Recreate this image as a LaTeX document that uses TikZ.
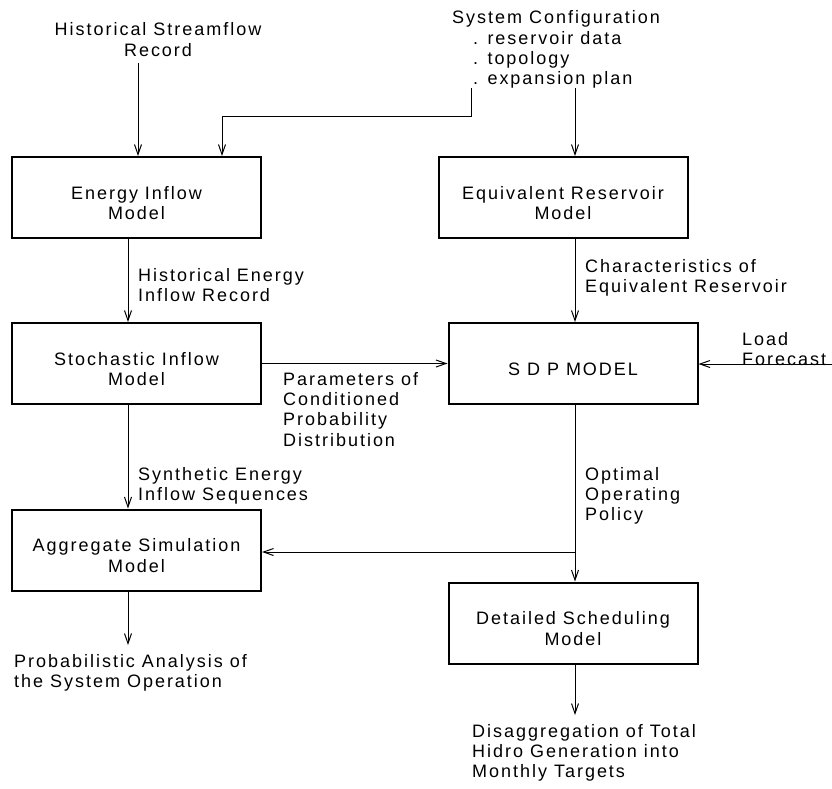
\documentclass[tikz,border=0pt]{standalone}
\usepackage{fontspec}
\setmainfont[LetterSpace=11]{Liberation Sans}
\usetikzlibrary{arrows.meta}

\begin{document}
\begin{tikzpicture}[x=1pt,y=-1pt,
  font=\fontsize{18}{20.3}\selectfont,
  model/.style={draw,line width=2pt,minimum width=249pt,minimum height=81pt,
    align=center,inner sep=0pt,text height=#1,text depth=0pt},
  model/.default=44pt,
  txt/.style={align=left,inner sep=0pt,anchor=north west},
  arr/.style={line width=1pt,-{Straight Barb[length=10pt,width=7pt]}}]
\useasboundingbox (0,0) rectangle (832,788);

% the six models
\node[model] (energy) at (136.5,197.5) {Energy Inflow\\Model};
\node[model] (equiv)  at (563,197.5)   {Equivalent Reservoir\\Model};
\node[model] (stoch)  at (136.5,363.5) {Stochastic Inflow\\Model};
\node[model=24pt] (sdp) at (573,363.5) {S D P MODEL};
\node[model] (aggr)   at (136.5,550)   {Aggregate Simulation\\Model};
\node[model] (detail) at (573,623)     {Detailed Scheduling\\Model};

% inputs and outputs
\node[align=center,inner sep=0pt,anchor=north] (stream) at (158,22.5)
  {Historical Streamflow\\Record};
\node[txt] (config) at (452,10.7) {System Configuration\\
  \hspace*{21pt}. reservoir data\\
  \hspace*{21pt}. topology\\
  \hspace*{21pt}. expansion plan};
\node[txt] (loadtxt) at (742,332) {Load\\Forecast};
\node[txt] (prob)    at (14,654)  {Probabilistic Analysis of\\the System Operation};
\node[txt] (disagg)  at (472,724) {Disaggregation of Total\\Hidro Generation into\\Monthly Targets};

% labels on the connectors
\node[txt] (histE)  at (138,268.2) {Historical Energy\\Inflow Record};
\node[txt] (charac) at (585,259) {Characteristics of\\Equivalent Reservoir};
\node[txt] (param)  at (283,372) {Parameters of\\Conditioned\\Probability\\Distribution};
\node[txt] (synth)  at (138,467) {Synthetic Energy\\Inflow Sequences};
\node[txt] (optim)  at (585,467) {Optimal\\Operating\\Policy};

% columns and free ends
\coordinate (colL) at (128,0);
\coordinate (colR) at (575,0);
\coordinate (flowin) at (138,63);
\coordinate (cfgleft) at (471,88);
\coordinate (cfgright) at (575,88);
\coordinate (cfgbend) at (222,116);
\coordinate (loadin) at (832,364);
\coordinate (split) at (575,552);
\coordinate (probout) at (128,645);
\coordinate (disout) at (575,715);

\draw[arr] (flowin) -- (flowin |- energy.north);
\draw[arr] (cfgleft) |- (cfgbend) -- (cfgbend |- energy.north);
\draw[arr] (cfgright) -- (cfgright |- equiv.north);
\draw[arr] (colL |- energy.south) -- (colL |- stoch.north);
\draw[arr] (colR |- equiv.south) -- (colR |- sdp.north);
\draw[arr] (stoch.east) -- (sdp.west);
\draw[arr] (loadin) -- (loadin -| sdp.east);
\draw[arr] (colL |- stoch.south) -- (colL |- aggr.north);
\draw[arr] (colR |- sdp.south) -- (colR |- detail.north);
\draw[arr] (split) -- (split -| aggr.east);
\draw[arr] (colL |- aggr.south) -- (probout);
\draw[arr] (colR |- detail.south) -- (disout);
\end{tikzpicture}
\end{document}
